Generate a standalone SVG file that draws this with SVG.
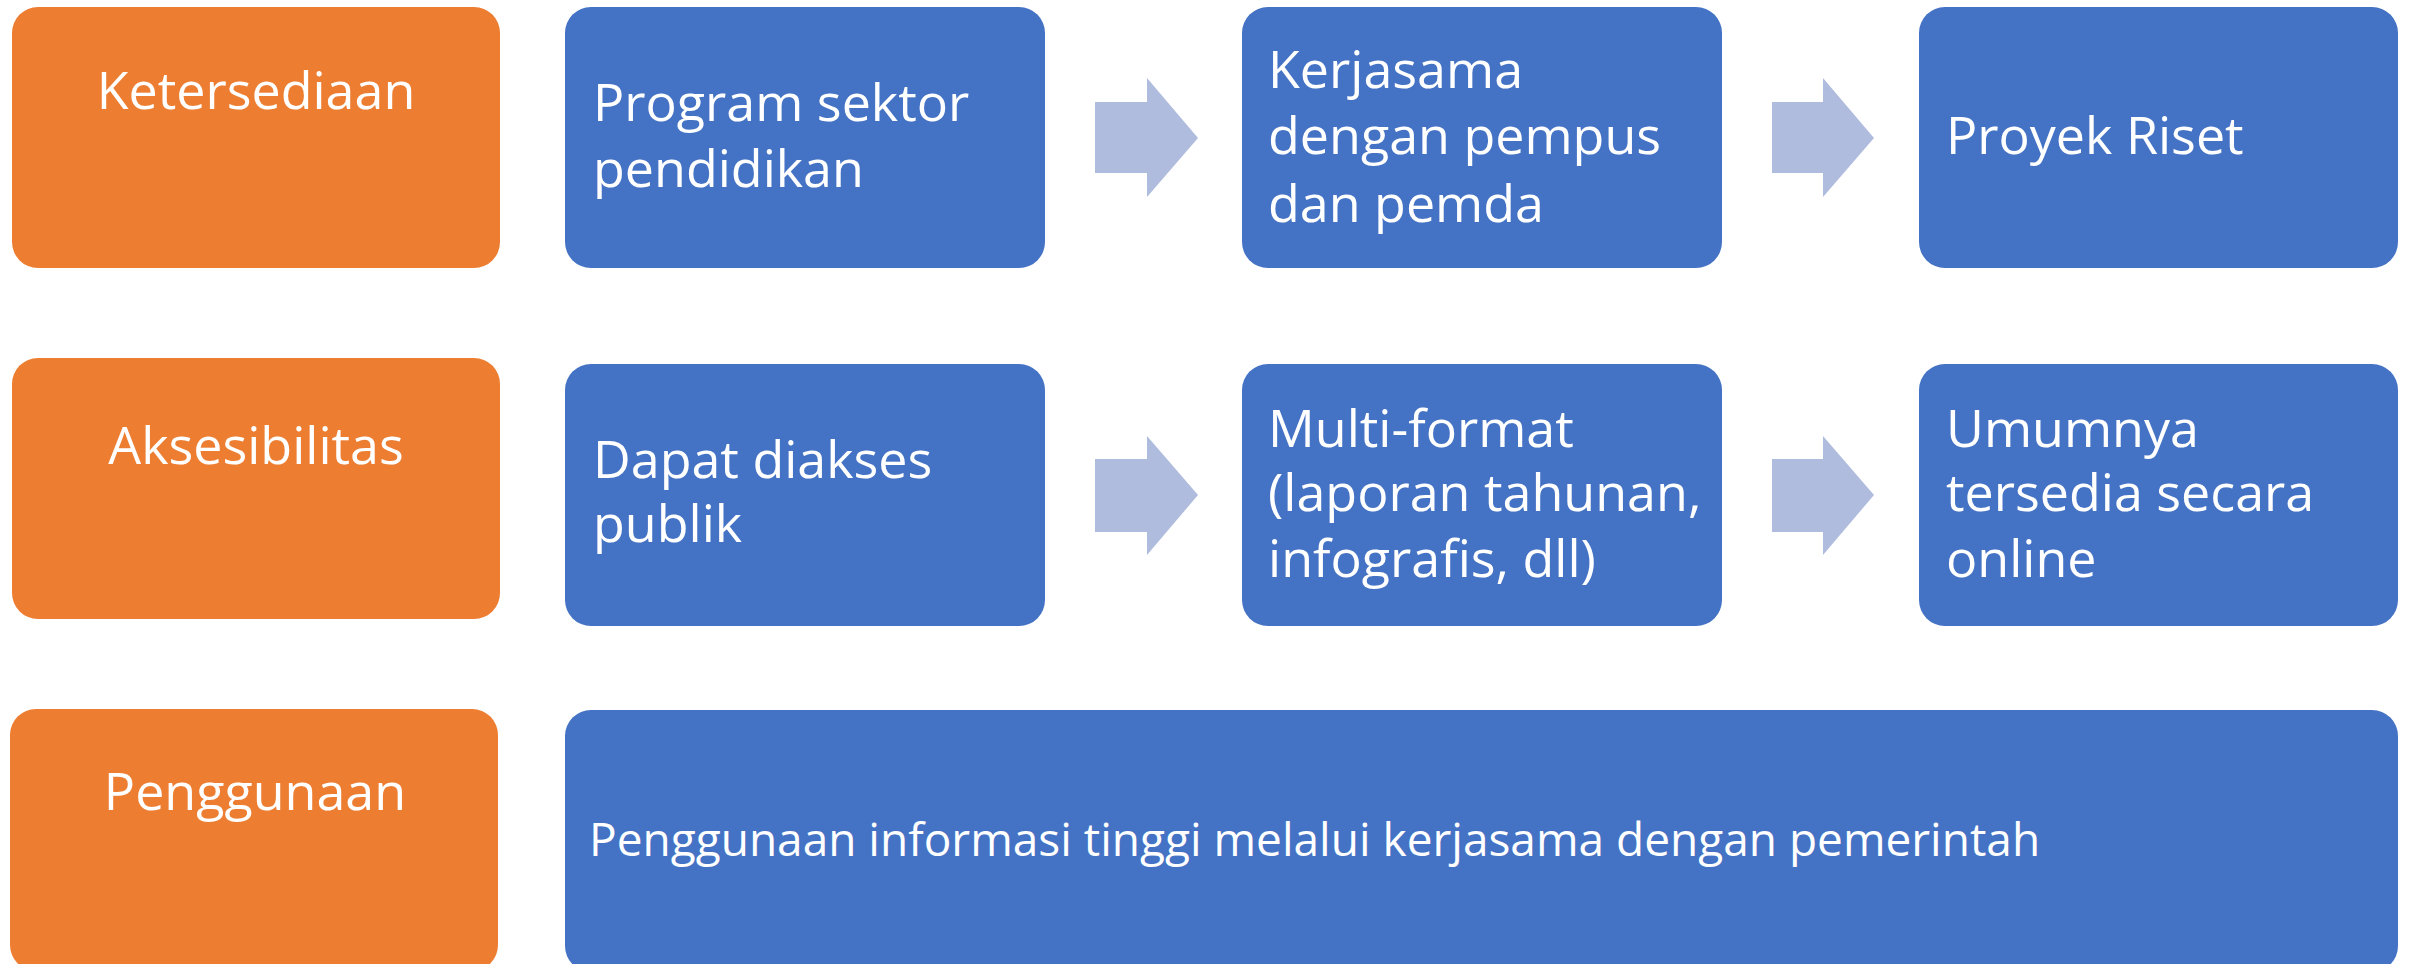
<svg xmlns="http://www.w3.org/2000/svg" width="2412" height="964" viewBox="0 0 2412 964">
<style>
.cat{fill:#ED7D31}
.box{fill:#4472C4}
.arr{fill:#AFBCDE}
text{font-family:"Open Sans","Noto Sans","Liberation Sans",sans-serif;fill:#FFFFFF;font-size:52px}
.c{text-anchor:middle}
.big{font-size:46px}
</style>
<rect width="2412" height="964" fill="#FFFFFF"/>
<g id="connectors">
<polygon class="arr" points="1095,102 1147,102 1147,78 1198,138 1147,197 1147,173 1095,173"/>
<polygon class="arr" points="1772,102 1823,102 1823,78 1874,138 1823,197 1823,173 1772,173"/>
<polygon class="arr" points="1095,459 1147,459 1147,436 1198,495 1147,555 1147,532 1095,532"/>
<polygon class="arr" points="1772,459 1823,459 1823,436 1874,495 1823,555 1823,532 1772,532"/>
</g>
<g id="ketersediaan">
<rect class="cat" x="12" y="7" width="488" height="261" rx="26"/>
<text class="c" x="256" y="109">Ketersediaan</text>
</g>
<g id="program-sektor">
<rect class="box" x="565" y="7" width="480" height="261" rx="26"/>
<text x="593" y="121">Program sektor</text>
<text x="593" y="187">pendidikan</text>
</g>
<g id="kerjasama">
<rect class="box" x="1242" y="7" width="480" height="261" rx="26"/>
<text x="1268" y="88">Kerjasama</text>
<text x="1268" y="154">dengan pempus</text>
<text x="1268" y="222">dan pemda</text>
</g>
<g id="proyek-riset">
<rect class="box" x="1919" y="7" width="479" height="261" rx="26"/>
<text x="1946" y="154">Proyek Riset</text>
</g>
<g id="aksesibilitas">
<rect class="cat" x="12" y="358" width="488" height="261" rx="26"/>
<text class="c" x="256" y="464">Aksesibilitas</text>
</g>
<g id="dapat-diakses">
<rect class="box" x="565" y="364" width="480" height="262" rx="26"/>
<text x="593" y="478">Dapat diakses</text>
<text x="593" y="542">publik</text>
</g>
<g id="multi-format">
<rect class="box" x="1242" y="364" width="480" height="262" rx="26"/>
<text x="1268" y="447">Multi-format</text>
<text x="1268" y="511">(laporan tahunan,</text>
<text x="1268" y="577">infografis, dll)</text>
</g>
<g id="umumnya-online">
<rect class="box" x="1919" y="364" width="479" height="262" rx="26"/>
<text x="1946" y="447">Umumnya</text>
<text x="1946" y="511">tersedia secara</text>
<text x="1946" y="577">online</text>
</g>
<g id="penggunaan">
<rect class="cat" x="10" y="709" width="488" height="262" rx="26"/>
<text class="c" x="255" y="810">Penggunaan</text>
</g>
<g id="penggunaan-informasi">
<rect class="box" x="565" y="710" width="1833" height="262" rx="26"/>
<text class="big" x="589" y="856">Penggunaan informasi tinggi melalui kerjasama dengan pemerintah</text>
</g>
</svg>
